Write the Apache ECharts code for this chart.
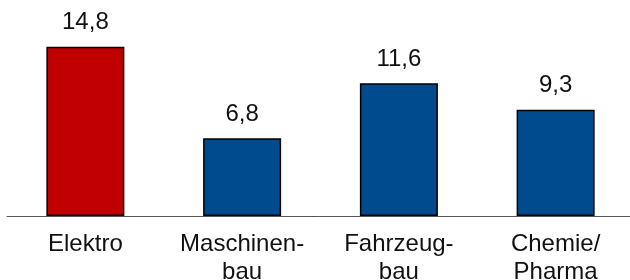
<!DOCTYPE html>
<html>
<head>
<meta charset="utf-8">
<script src="https://cdn.jsdelivr.net/npm/echarts@6/dist/echarts.min.js"></script>
<style>
  html, body { margin: 0; padding: 0; background: #fff; }
  #chart { width: 630px; height: 280px; }
</style>
</head>
<body>
<div id="chart"></div>
<script>
const categories = ['Elektro', 'Maschinen-\nbau', 'Fahrzeug-\nbau', 'Chemie/\nPharma'];
const values = [14.8, 6.8, 11.6, 9.3];
const barColors = ['#C00000', '#004B8D', '#004B8D', '#004B8D'];

const chart = echarts.init(document.getElementById('chart'));

const option = {
  animation: false,
  grid: { left: 7, right: -4, top: 33, bottom: 64, containLabel: false, outerBoundsMode: 'none' },
  xAxis: {
    type: 'category',
    data: categories,
    axisLine: { lineStyle: { color: '#555', width: 1 } },
    axisTick: { show: false },
    axisLabel: {
      margin: 14,
      color: '#111',
      fontFamily: 'Liberation Sans, Arial, sans-serif',
      fontSize: 24,
      lineHeight: 28,
      interval: 0
    }
  },
  yAxis: {
    type: 'value',
    min: 0,
    max: 16,
    show: false
  },
  series: [
    {
      type: 'bar',
      barWidth: 78,
      data: values.map((v, i) => ({
        value: v,
        itemStyle: { color: barColors[i] }
      })),
      itemStyle: { borderColor: '#000', borderWidth: 1.5 },
      label: {
        show: true,
        position: 'top',
        distance: 12,
        color: '#111',
        fontFamily: 'Liberation Sans, Arial, sans-serif',
        fontSize: 24,
        formatter: (p) => String(p.value).replace('.', ',')
      }
    }
  ]
};

chart.setOption(option);
</script>
</body>
</html>
